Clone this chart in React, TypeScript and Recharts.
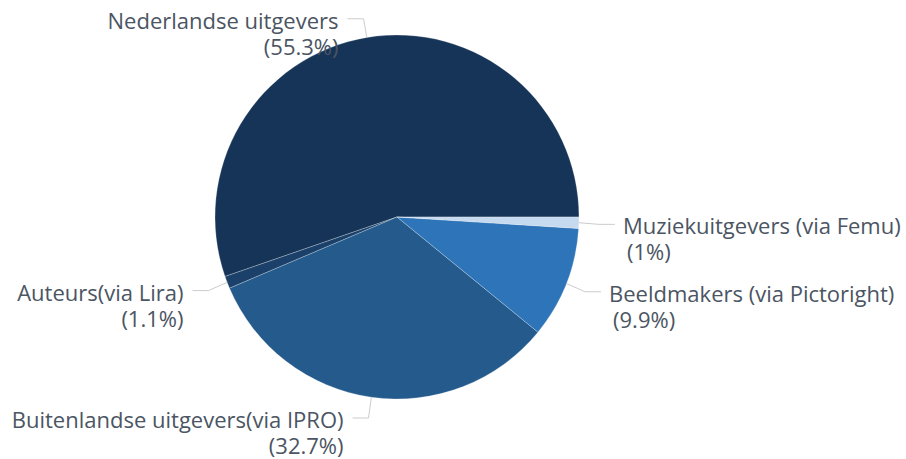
import React from 'react';
import { PieChart, Pie, Cell } from 'recharts';

const categories = [
  'Nederlandse uitgevers',
  'Auteurs(via Lira)',
  'Buitenlandse uitgevers(via IPRO)',
  'Beeldmakers (via Pictoright)',
  'Muziekuitgevers (via Femu)',
];
const shares = [55.3, 1.1, 32.7, 9.9, 1];
const COLORS = ['#163457', '#1b416b', '#245a8c', '#2e74b8', '#c5d9ef'];

const data = categories.map((name, i) => ({ name, value: shares[i] }));

const RADIAN = Math.PI / 180;
const FONT = '"Open Sans", sans-serif';

function renderLabel(props: any) {
  const { cx, cy, midAngle, outerRadius, name, value } = props;
  const cos = Math.cos(midAngle * RADIAN);
  const sin = Math.sin(midAngle * RADIAN);
  const ex = cx + outerRadius * cos;
  const ey = cy - outerRadius * sin;
  const kx = cx + (outerRadius + 20) * cos;
  // keep the bottom label inside the chart
  const ky = Math.min(cy - (outerRadius + 20) * sin + 1, 420);
  const right = cos >= 0;
  const hx = kx + (right ? 16 : -16);
  const tx = kx + (right ? 24 : -25);
  return (
    <g>
      <path
        d={`M${ex},${ey}L${kx},${ky}L${hx},${ky}`}
        stroke="#cccccc"
        strokeWidth={1}
        fill="none"
      />
      <text
        x={tx}
        y={ky + 10}
        textAnchor={right ? 'start' : 'end'}
        fill="#4b5563"
        fontSize={22}
        fontFamily={FONT}
      >
        <tspan x={tx}>{name}</tspan>
        <tspan x={tx + (right ? 4 : 0)} dy={26}>{`(${value}%)`}</tspan>
      </text>
    </g>
  );
}

export default function App() {
  return (
    <div style={{ position: 'absolute', left: 0, top: 0 }}>
      <PieChart width={906} height={459} margin={{ top: 0, right: 0, bottom: 0, left: 0 }}>
        <Pie
          data={data}
          dataKey="value"
          nameKey="name"
          cx={397}
          cy={217}
          outerRadius={182}
          startAngle={0}
          endAngle={360}
          stroke="#ffffff"
          strokeWidth={0.5}
          strokeOpacity={0.5}
          label={renderLabel}
          labelLine={false}
          isAnimationActive={false}
        >
          {data.map((_, i) => (
            <Cell key={`cell-${i}`} fill={COLORS[i]} />
          ))}
        </Pie>
      </PieChart>
    </div>
  );
}
